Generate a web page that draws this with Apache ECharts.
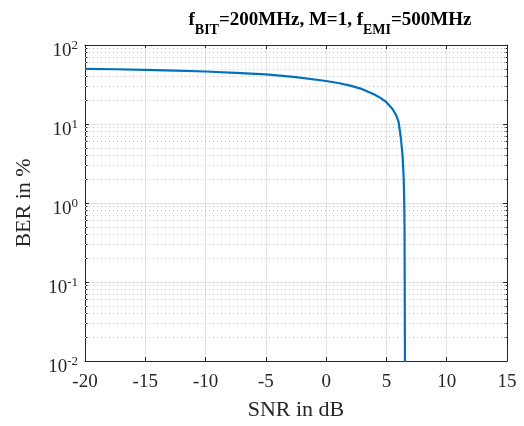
<!DOCTYPE html>
<html>
<head>
<meta charset="utf-8">
<script src="https://cdn.jsdelivr.net/npm/echarts@6/dist/echarts.min.js"></script>
<style>html,body{margin:0;padding:0;background:#fff}#c{width:524px;height:426px}</style>
</head>
<body>
<div id="c"></div>
<script>
var snrDb = [-20, -17.5, -15, -12.5, -10, -7.5, -5, -2.5, 0, 1, 2, 3, 4, 4.5, 5, 5.5, 5.8, 6.0, 6.2, 6.3, 6.35, 6.43, 6.47, 6.5, 6.51, 6.52, 6.53, 6.535, 6.54];
var berPct = [49.9, 49.3, 48.5, 47.5, 46.2, 44.5, 42.4, 39.2, 35.0, 33.0, 30.6, 27.6, 23.6, 21.4, 18.9, 15.5, 13.0, 10.8, 6.6, 4.6, 3.7, 2.1, 1.2, 0.5, 0.2, 0.06, 0.02, 0.01, 0.005];
var xTicks = [-20, -15, -10, -5, 0, 5, 10, 15];
var yDecades = [0.01, 0.1, 1, 10, 100];

var FONT = 'Liberation Serif';
var minorVals = [];
for (var n = -2; n <= 1; n++) {
  for (var k = 2; k <= 9; k++) minorVals.push(k * Math.pow(10, n));
}
var minorLog = minorVals.map(function (v) { return Math.log10(v); });

var chart = echarts.init(document.getElementById('c'));
var gridBox = { left: 85, right: 17, top: 45, bottom: 59 };
var tickCol = '#262626';

var option = {
  animation: false,
  backgroundColor: '#fff',
  title: {
    left: 325, textAlign: 'center', top: 6,
    text: '{m|f}{s|BIT}{m|=200MHz, M=1, f}{s|EMI}{m|=500MHz}',
    textStyle: {
      rich: {
        m: { fontFamily: FONT, fontSize: 19, fontWeight: 'bold', color: '#000', lineHeight: 22, verticalAlign: 'top' },
        s: { fontFamily: FONT, fontSize: 14, fontWeight: 'bold', color: '#000', padding: [12, 0, 0, 0], lineHeight: 22, verticalAlign: 'top' }
      }
    }
  },
  grid: gridBox,
  xAxis: [{
    type: 'value', min: xTicks[0], max: xTicks[xTicks.length - 1], interval: 5,
    name: 'SNR in dB', nameLocation: 'middle', nameGap: 38,
    nameTextStyle: { fontFamily: FONT, fontSize: 22, color: tickCol },
    axisLine: { show: true, onZero: false, lineStyle: { color: tickCol, width: 1 } },
    axisTick: { show: true, inside: true, length: 4, lineStyle: { color: tickCol } },
    axisLabel: { fontFamily: FONT, fontSize: 19, color: tickCol, margin: 12 },
    splitLine: { show: true, lineStyle: { color: '#e3e3e3', width: 1 } }
  }, {
    type: 'value', position: 'top', min: xTicks[0], max: xTicks[xTicks.length - 1], interval: 5,
    axisLine: { show: true, onZero: false, lineStyle: { color: tickCol, width: 1 } },
    axisTick: { show: true, inside: true, length: 4, lineStyle: { color: tickCol } },
    axisLabel: { show: false }, splitLine: { show: false }
  }],
  yAxis: [{
    type: 'log', logBase: 10, min: yDecades[0], max: yDecades[yDecades.length - 1],
    name: 'BER in %', nameLocation: 'middle', nameGap: 50,
    nameTextStyle: { fontFamily: FONT, fontSize: 22, color: tickCol },
    axisLine: { show: true, onZero: false, lineStyle: { color: tickCol, width: 1 } },
    axisTick: { show: true, inside: true, length: 4, lineStyle: { color: tickCol } },
    axisLabel: {
      margin: 7,
      padding: [12, 0, 0, 0],
      formatter: function (v) { return '{b|10}{sup|' + Math.round(Math.log10(v)) + '}'; },
      rich: {
        b: { fontFamily: FONT, fontSize: 19, color: tickCol },
        sup: { fontFamily: FONT, fontSize: 13, color: tickCol, padding: [0, 0, 10, 0] }
      }
    },
    splitLine: { show: true, lineStyle: { color: '#e3e3e3', width: 1 } }
  }, {
    type: 'log', logBase: 10, min: yDecades[0], max: yDecades[yDecades.length - 1], position: 'right',
    axisLine: { show: true, onZero: false, lineStyle: { color: tickCol, width: 1 } },
    axisTick: { show: true, inside: true, length: 4, lineStyle: { color: tickCol } },
    axisLabel: { show: false }, splitLine: { show: false }
  }, {
    type: 'value', min: -2, max: 2, position: 'left',
    axisLine: { show: false, onZero: false },
    axisTick: { show: true, inside: true, length: 2.5, customValues: minorLog, lineStyle: { color: tickCol } },
    axisLabel: { show: false }, splitLine: { show: false }
  }, {
    type: 'value', min: -2, max: 2, position: 'right',
    axisLine: { show: false, onZero: false },
    axisTick: { show: true, inside: true, length: 2.5, customValues: minorLog, lineStyle: { color: tickCol } },
    axisLabel: { show: false }, splitLine: { show: false }
  }],
  series: [{
    type: 'line', data: [], xAxisIndex: 0, yAxisIndex: 0, z: 1, silent: true,
    markLine: {
      silent: true, symbol: ['none', 'none'], label: { show: false },
      lineStyle: { type: [1, 3], color: '#c4c4c4', width: 1 },
      data: minorVals.map(function (v) { return { yAxis: v }; })
    }
  }, {
    type: 'line', xAxisIndex: 0, yAxisIndex: 0, z: 5,
    data: snrDb.map(function (x, i) { return [x, berPct[i]]; }),
    showSymbol: false, symbol: 'none', smooth: false, clip: true,
    lineStyle: { color: '#0072BD', width: 2.2 }
  }]
};
chart.setOption(option);
</script>
</body>
</html>
